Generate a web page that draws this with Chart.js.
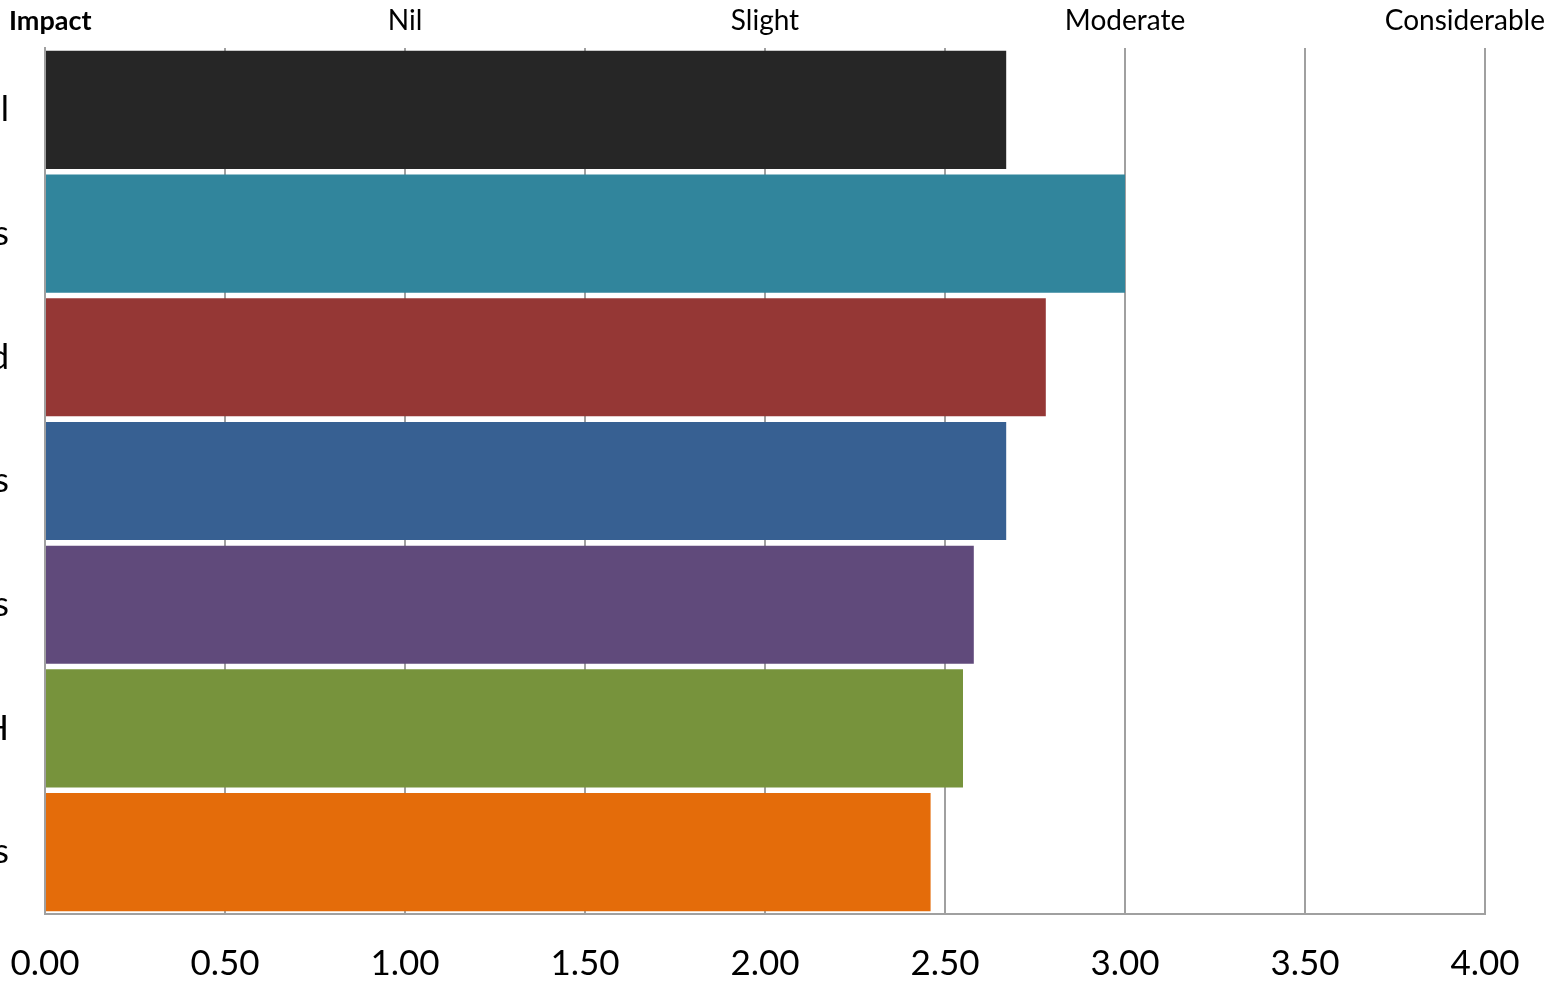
<!DOCTYPE html>
<html>
<head>
<meta charset="utf-8">
<script src="https://cdn.jsdelivr.net/npm/chart.js@4.4.1/dist/chart.umd.min.js"></script>
<style>
  html,body{margin:0;padding:0;background:#fff;}
  #wrap{width:1551px;height:985px;position:relative;}
</style>
</head>
<body>
<div id="wrap"><canvas id="impact-chart"></canvas></div>
<script>
// rows, top to bottom
const categories = ['l', 's', 'd', 's', 's', 'H', 's'];
const scores = [2.67, 3.00, 2.78, 2.67, 2.58, 2.55, 2.46];
const barColors = ['#262626', '#31859c', '#953735', '#376092', '#604a7b', '#77933c', '#e46c0a'];
// impact scale shown along the top
const scaleTitle = 'Impact';
const scaleValues = [1, 2, 3, 4];
const scaleNames = ['Nil', 'Slight', 'Moderate', 'Considerable'];

const FONT = 'Lato, "Open Sans", sans-serif';
const GRID = '#a0a0a0';

// top scale names, placed on the x scale
const topLabels = {
  id: 'topLabels',
  afterDraw(chart) {
    const c = chart.ctx, x = chart.scales.x, W = chart.width;
    c.save();
    c.fillStyle = '#000';
    c.textBaseline = 'middle';
    c.font = 'bold 27px ' + FONT;
    c.textAlign = 'left';
    c.fillText(scaleTitle, 9, 21);
    c.font = '28px ' + FONT;
    scaleNames.forEach(function(n, i) {
      const w = c.measureText(n).width;
      let px = x.getPixelForValue(scaleValues[i]) - w / 2;
      if (px + w > W - 6) px = W - 6 - w;
      c.fillText(n, px, 21);
    });
    c.restore();
  }
};

new Chart(document.getElementById('impact-chart'), {
  type: 'bar',
  data: {
    labels: categories,
    datasets: [{
      data: scores,
      backgroundColor: barColors,
      borderWidth: 0,
      barPercentage: 0.955,
      categoryPercentage: 1
    }]
  },
  options: {
    indexAxis: 'y',
    responsive: true,
    maintainAspectRatio: false,
    animation: false,
    layout: {padding: {top: 48, right: 66, left: 0, bottom: 0}},
    plugins: {legend: {display: false}, tooltip: {enabled: false}},
    scales: {
      x: {
        min: 0, max: 4,
        ticks: {
          stepSize: 0.5,
          color: '#000',
          font: {family: FONT, size: 35},
          padding: 29,
          maxRotation: 0,
          callback: function(v) { return Number(v).toFixed(2); }
        },
        grid: {color: GRID, lineWidth: 2, drawTicks: false},
        border: {color: GRID, width: 2},
        afterFit: function(s) { s.height = 71; s.paddingLeft = 0; s.paddingRight = 0; }
      },
      y: {
        ticks: {
          color: '#000',
          font: {family: FONT, size: 35},
          padding: 36
        },
        grid: {display: false, drawTicks: false},
        border: {color: GRID, width: 2},
        afterFit: function(s) { s.width = 45; s.paddingTop = 0; s.paddingBottom = 0; }
      }
    }
  },
  plugins: [topLabels]
});
</script>
</body>
</html>
